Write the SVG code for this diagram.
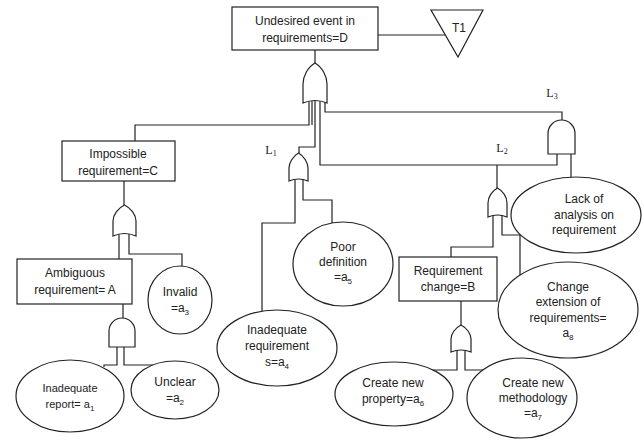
<svg xmlns="http://www.w3.org/2000/svg" width="644" height="440" viewBox="0 0 644 440">
<style>
  .box{fill:#fff;stroke:#222;stroke-width:1.2}
  .gate{fill:#fff;stroke:#222;stroke-width:1.2}
  .ev{fill:#fff;stroke:#222;stroke-width:1.2}
  .wire{fill:none;stroke:#222;stroke-width:1.2}
  text{font-family:"Liberation Sans",Arial,sans-serif;font-size:12px;fill:#222;text-anchor:middle}
  .lbl{font-family:"Liberation Serif","Times New Roman",serif;font-size:12px}
  .sub{font-size:8px}
</style>
<rect width="644" height="440" fill="#fff"/>
<g id="connectors">
  <path class="wire" d="M315,50 V63"/>
  <path class="wire" d="M378,35 H445"/>
  <path class="wire" d="M309,101 V125 H135 V141"/>
  <path class="wire" d="M312,101 V125"/>
  <path class="wire" d="M315,101 V147 H299 V153"/>
  <path class="wire" d="M320,101 V165 H557 V154"/>
  <path class="wire" d="M325,102 V112 H562 V120"/>
  <path class="wire" d="M295,180 V223 H262 V311"/>
  <path class="wire" d="M303,180 V200 H332 V223"/>
  <path class="wire" d="M124,181 V205"/>
  <path class="wire" d="M119,234 V259"/>
  <path class="wire" d="M129,234 V254 H182 V266"/>
  <path class="wire" d="M123,304 V318"/>
  <path class="wire" d="M117,347 V365 H104 V367"/>
  <path class="wire" d="M124,347 V365 H153"/>
  <path class="wire" d="M571,154 V177"/>
  <path class="wire" d="M497,165 V188"/>
  <path class="wire" d="M493,216 V247 H451 V257"/>
  <path class="wire" d="M502,216 V235 H520 V275"/>
  <path class="wire" d="M461,301 V325"/>
  <path class="wire" d="M457,351 V370 H433"/>
  <path class="wire" d="M465,351 V370 H484"/>
</g>
<g id="D">
  <rect class="box" x="232" y="7" width="146" height="43"/>
  <text x="305" y="25">Undesired event in</text>
  <text x="305" y="42">requirements=D</text>
</g>
<g id="T1">
  <path class="box" d="M431,10 H483 L458,57 Z"/>
  <text x="459" y="32">T1</text>
</g>
<g id="gateD">
  <path class="gate" d="M315,63 C322,67 327,76 327,84 L327,103 Q315,98 303,103 L303,84 C303,76 308,67 315,63 Z"/>
</g>
<g id="C">
  <rect class="box" x="62" y="141" width="113" height="40"/>
  <text x="118" y="158">Impossible</text>
  <text x="118" y="175">requirement=C</text>
</g>
<g id="gateC">
  <path class="gate" d="M124.5,205 C131,208 136,215 136,221 L136,236 Q124.5,231 113,236 L113,221 C113,215 118,208 124.5,205 Z"/>
</g>
<g id="A">
  <rect class="box" x="17" y="259" width="115" height="45"/>
  <text x="75" y="277">Ambiguous</text>
  <text x="75" y="294">requirement= A</text>
</g>
<g id="gateA">
  <path class="gate" d="M109,347 L109,331 A13,13 0 0 1 135,331 L135,347 Z"/>
</g>
<g id="a3">
  <ellipse class="ev" cx="180" cy="300" rx="32" ry="34"/>
  <text x="180" y="296">Invalid</text>
  <text x="180" y="312">=a<tspan class="sub" dy="3">3</tspan></text>
</g>
<g id="a1">
  <ellipse class="ev" cx="70" cy="396" rx="54" ry="36"/>
  <text x="70" y="392" style="font-size:11px">Inadequate</text>
  <text x="70" y="408" style="font-size:11px">report= a<tspan class="sub" dy="3">1</tspan></text>
</g>
<g id="a2">
  <ellipse class="ev" cx="175" cy="390" rx="44" ry="29"/>
  <text x="175" y="386">Unclear</text>
  <text x="175" y="402">=a<tspan class="sub" dy="3">2</tspan></text>
</g>
<g id="L1">
  <text class="lbl" x="271" y="154">L<tspan class="sub" dy="2">1</tspan></text>
  <path class="gate" d="M298.5,153 C304,156 308,163 308,168 L308,181 Q298.5,177 289,181 L289,168 C289,163 293,156 298.5,153 Z"/>
</g>
<g id="a4">
  <ellipse class="ev" cx="277" cy="348" rx="60" ry="38"/>
  <text x="277" y="334">Inadequate</text>
  <text x="277" y="350">requirement</text>
  <text x="277" y="366">s=a<tspan class="sub" dy="3">4</tspan></text>
</g>
<g id="a5">
  <ellipse class="ev" cx="343" cy="264" rx="50" ry="42"/>
  <text x="343" y="251">Poor</text>
  <text x="343" y="266">definition</text>
  <text x="343" y="281">=a<tspan class="sub" dy="3">5</tspan></text>
</g>
<g id="L3">
  <text class="lbl" x="552" y="97">L<tspan class="sub" dy="2">3</tspan></text>
  <path class="gate" d="M548,154 L548,133.5 A13.5,13.5 0 0 1 575,133.5 L575,154 Z"/>
</g>
<g id="L2">
  <text class="lbl" x="502" y="152">L<tspan class="sub" dy="2">2</tspan></text>
  <path class="gate" d="M497.5,188 C503,191 507,197 507,203 L507,217 Q497.5,213 488,217 L488,203 C488,197 492,191 497.5,188 Z"/>
</g>
<g id="lack">
  <ellipse class="ev" cx="576" cy="215" rx="65" ry="38"/>
  <text x="584" y="203">Lack of</text>
  <text x="584" y="219">analysis on</text>
  <text x="584" y="234">requirement</text>
</g>
<g id="B">
  <rect class="box" x="399" y="257" width="98" height="44"/>
  <text x="448" y="275">Requirement</text>
  <text x="448" y="291">change=B</text>
</g>
<g id="gateB">
  <path class="gate" d="M461,325 C467,328 471,334 471,339 L471,352 Q461,348 451,352 L451,339 C451,334 455,328 461,325 Z"/>
</g>
<g id="a8">
  <ellipse class="ev" cx="568" cy="310" rx="70" ry="48"/>
  <text x="568" y="291">Change</text>
  <text x="568" y="306">extension of</text>
  <text x="568" y="322">requirements=</text>
  <text x="568" y="337">a<tspan class="sub" dy="3">8</tspan></text>
</g>
<g id="a6">
  <ellipse class="ev" cx="394" cy="394" rx="59" ry="32"/>
  <text x="393" y="387">Create new</text>
  <text x="393" y="403">property=a<tspan class="sub" dy="3">6</tspan></text>
</g>
<g id="a7">
  <ellipse class="ev" cx="522" cy="398" rx="55" ry="40"/>
  <text x="533" y="387">Create new</text>
  <text x="533" y="402">methodology</text>
  <text x="533" y="417">=a<tspan class="sub" dy="3">7</tspan></text>
</g>
</svg>
